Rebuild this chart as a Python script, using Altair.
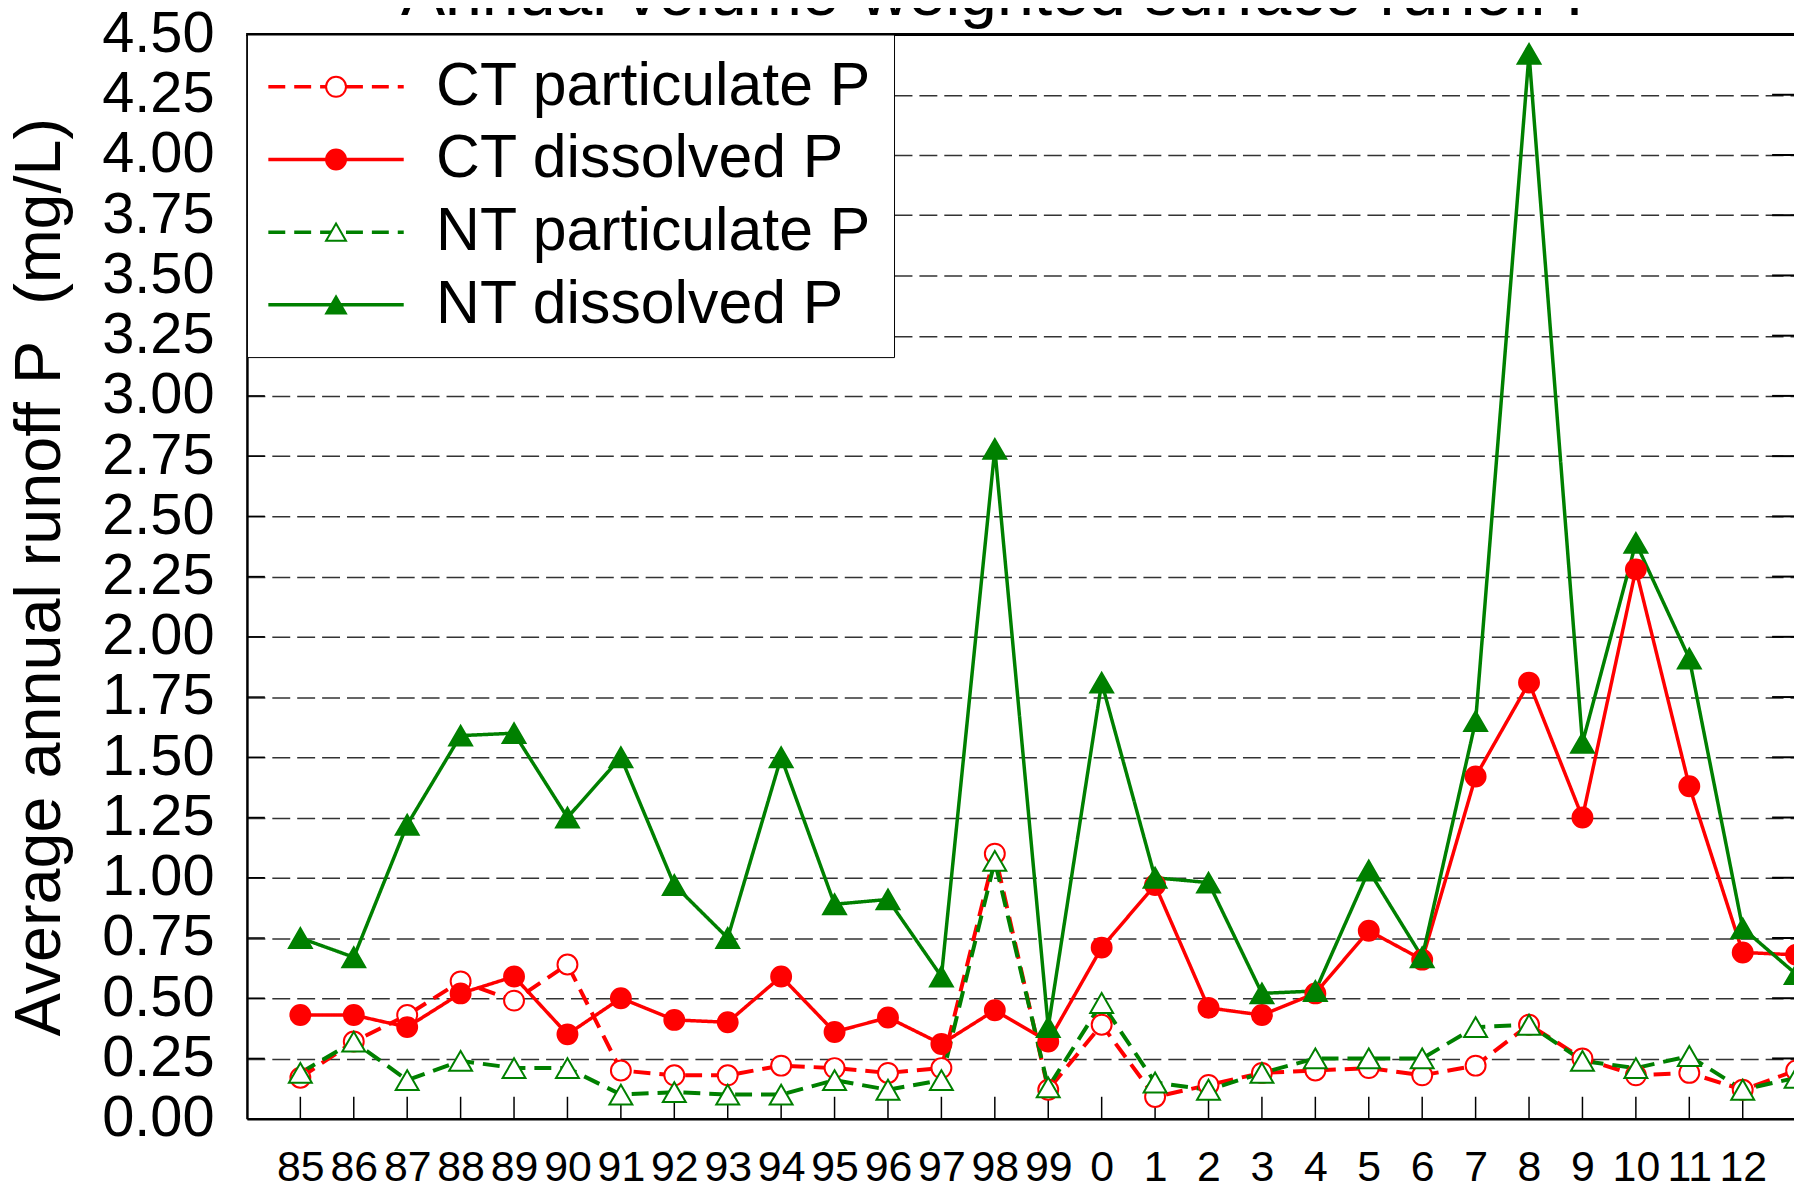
import altair as alt
import pandas as pd

# ---- data ----
chart_title = 'Annual volume-weighted surface runoff P'
years = ['85', '86', '87', '88', '89', '90', '91', '92', '93', '94', '95', '96', '97', '98', '99',
         '0', '1', '2', '3', '4', '5', '6', '7', '8', '9', '10', '11', '12', '13']
series_names = ['CT particulate P', 'CT dissolved P', 'NT particulate P', 'NT dissolved P']

ct_particulate = [0.17, 0.32, 0.43, 0.57, 0.49, 0.64, 0.20, 0.18, 0.18, 0.22, 0.21, 0.19, 0.21, 1.10, 0.12,
                  0.39, 0.09, 0.14, 0.19, 0.20, 0.21, 0.18, 0.22, 0.39, 0.25, 0.18, 0.19, 0.12, 0.20]
ct_dissolved = [0.43, 0.43, 0.38, 0.52, 0.59, 0.35, 0.50, 0.41, 0.40, 0.59, 0.36, 0.42, 0.31, 0.45, 0.32,
                0.71, 0.97, 0.46, 0.43, 0.52, 0.78, 0.66, 1.42, 1.81, 1.25, 2.28, 1.38, 0.69, 0.68]
nt_particulate = [0.19, 0.32, 0.16, 0.24, 0.21, 0.21, 0.10, 0.11, 0.10, 0.10, 0.16, 0.12, 0.16, 1.07, 0.13,
                  0.48, 0.15, 0.12, 0.19, 0.25, 0.25, 0.25, 0.38, 0.39, 0.24, 0.21, 0.26, 0.12, 0.17]
nt_dissolved = [0.75, 0.67, 1.22, 1.59, 1.60, 1.25, 1.50, 0.97, 0.75, 1.50, 0.89, 0.91, 0.59, 2.78, 0.38,
                1.81, 1.00, 0.98, 0.52, 0.53, 1.03, 0.67, 1.65, 4.42, 1.56, 2.39, 1.91, 0.79, 0.60]

y_ticks = [0.0, 0.25, 0.5, 0.75, 1.0, 1.25, 1.5, 1.75, 2.0, 2.25, 2.5, 2.75, 3.0, 3.25, 3.5, 3.75, 4.0, 4.25, 4.5]
x_tick_idx = list(range(28))

line_colors = ['#ff0000', '#ff0000', '#008000', '#008000']
marker_fills = ['white', '#ff0000', 'white', '#008000']
marker_shapes = ['circle', 'circle', 'triangle-up', 'triangle-up']
dashes = [[17, 9], [1, 0], [17, 9], [1, 0]]

# ---- table ----
rows = []
for name, vals in zip(series_names, [ct_particulate, ct_dissolved, nt_particulate, nt_dissolved]):
    for i, v in enumerate(vals):
        rows.append({'i': i, 'value': v, 'series': name, 'mk': name + ' '})
df = pd.DataFrame(rows)
mk_names = [n + ' ' for n in series_names]

ytick_df = pd.DataFrame({'value': y_ticks[1:-1]})
xtick_df = pd.DataFrame({'i': x_tick_idx})
title_df = pd.DataFrame({'t': [chart_title]})

W, H = 1554, 1089
FONT = 'Liberation Sans'

xscale = alt.Scale(domain=[-1, 27.96], nice=False, zero=False)
yscale = alt.Scale(domain=[0, 4.5], nice=False, zero=False)

labels_js = '[' + ','.join("'" + y + "'" for y in years) + ']'
xaxis = alt.Axis(title=None, values=x_tick_idx, labelExpr=labels_js + '[datum.value]',
                 labelFontSize=43, labelFont=FONT, labelColor='black', labelPadding=28,
                 ticks=False, grid=False, domainColor='black', domainWidth=2.5,
                 labelOverlap=False, labelFlush=False, labelBound=False)
yaxis = alt.Axis(title='Average annual runoff P\u00a0 (mg/L)', values=y_ticks, format='.2f',
                 labelFontSize=58, labelFont=FONT, labelColor='black', labelPadding=33,
                 ticks=False, domainColor='black', domainWidth=2.5,
                 grid=True, gridDash=[18, 7], gridColor='#333333', gridWidth=1.5,
                 titleFontSize=65, titleFont=FONT, titleFontWeight='normal', titleColor='black',
                 titlePadding=28, labelOverlap=False, labelFlush=False)


def X(field='i'):
    return alt.X(field + ':Q', scale=xscale, axis=xaxis)


def Y(field='value'):
    return alt.Y(field + ':Q', scale=yscale, axis=yaxis)


SYM_OFFSET = 37
LBL_OFFSET = 70
leg_line = alt.Legend(title=None, orient='none', legendX=0, legendY=0, fillColor='white',
                      strokeColor='black', padding=22, labelFontSize=61, labelFont=FONT,
                      labelColor='black', labelLimit=1000, labelOffset=LBL_OFFSET, rowPadding=11,
                      symbolSize=400, symbolStrokeWidth=3.5, symbolType='M-6.8,0H6.8',
                      symbolOffset=SYM_OFFSET, zindex=1)
leg_pt = alt.Legend(title=None, orient='none', legendX=0, legendY=0, padding=22,
                    labelFontSize=61, labelFont=FONT, labelOpacity=0, labelLimit=1000,
                    labelOffset=LBL_OFFSET, rowPadding=11, symbolSize=400, symbolStrokeWidth=2,
                    symbolOffset=SYM_OFFSET, zindex=2)

# inward ticks and frame
left_ticks = alt.Chart(ytick_df).mark_rule(color='black', strokeWidth=1.5).encode(
    y=Y(), x=alt.value(0), x2=alt.value(18))
right_ticks = alt.Chart(ytick_df).mark_rule(color='black', strokeWidth=2).encode(
    y=Y(), x=alt.value(W - 22), x2=alt.value(W))
bottom_ticks = alt.Chart(xtick_df).mark_rule(color='black', strokeWidth=1.5).encode(
    x=X(), y=alt.value(H), y2=alt.value(H - 22))
top_border = alt.Chart(xtick_df).mark_rule(color='black', strokeWidth=3).encode(
    y=alt.datum(4.5, scale=yscale), x=alt.value(0), x2=alt.value(W))

# chart title (partly outside the top edge, as in the reference)
title_text = alt.Chart(title_df).mark_text(
    fontSize=66.5, font=FONT, color='black', align='center', baseline='alphabetic'
).encode(text='t:N', x=alt.value(762), y=alt.value(-20))


def line_layer(names, width):
    return alt.Chart(df).transform_filter(
        alt.FieldOneOfPredicate(field='series', oneOf=names)
    ).mark_line(strokeWidth=width).encode(
        x=X(), y=Y(),
        color=alt.Color('series:N', scale=alt.Scale(domain=series_names, range=line_colors), legend=leg_line),
        strokeDash=alt.StrokeDash('series:N', scale=alt.Scale(domain=series_names, range=dashes), legend=leg_line),
    )


def markers(names, size):
    return alt.Chart(df).transform_filter(
        alt.FieldOneOfPredicate(field='series', oneOf=names)
    ).mark_point(size=size, filled=True, opacity=1, strokeWidth=2).encode(
        x=X(), y=Y(),
        shape=alt.Shape('mk:N', scale=alt.Scale(domain=mk_names, range=marker_shapes), legend=leg_pt),
        fill=alt.Fill('mk:N', scale=alt.Scale(domain=mk_names, range=marker_fills), legend=leg_pt),
        stroke=alt.Stroke('mk:N', scale=alt.Scale(domain=mk_names, range=line_colors), legend=leg_pt),
    )


dashed_lines = line_layer([series_names[0], series_names[2]], 4)
solid_lines = line_layer([series_names[1], series_names[3]], 3.5)
circles = markers(series_names[:2], 400)
triangles = markers(series_names[2:], 530)

chart = alt.layer(left_ticks, right_ticks, bottom_ticks, top_border, title_text,
                  dashed_lines, solid_lines, circles, triangles).properties(
    width=W, height=H,
    padding={'left': 240, 'top': 24, 'right': 0, 'bottom': 68},
    autosize=alt.AutoSizeParams(type='none'),
).configure_view(strokeWidth=0).configure(font=FONT)

chart.save('out.html', embed_options={'renderer': 'svg', 'actions': False})
